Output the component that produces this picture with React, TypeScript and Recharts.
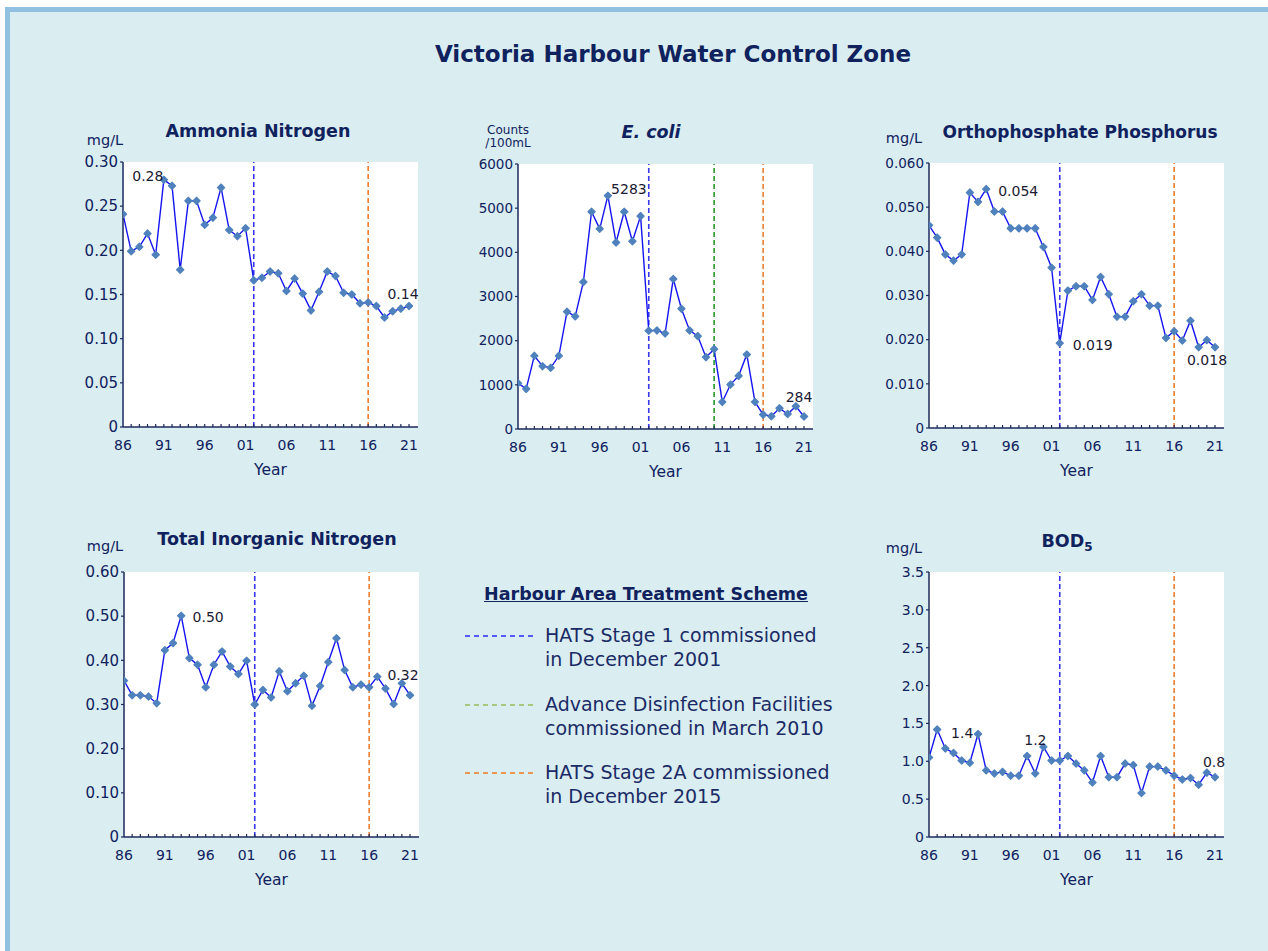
import React from "react";
import { LineChart, Line, XAxis, YAxis, CartesianGrid, ReferenceLine, LabelList } from "recharts";

// years on the category axis
const years = [
  1986, 1987, 1988, 1989, 1990, 1991, 1992, 1993, 1994, 1995, 1996, 1997,
  1998, 1999, 2000, 2001, 2002, 2003, 2004, 2005, 2006, 2007, 2008, 2009,
  2010, 2011, 2012, 2013, 2014, 2015, 2016, 2017, 2018, 2019, 2020, 2021,
];
const xLabelYears = [1986, 1991, 1996, 2001, 2006, 2011, 2016, 2021];

// annual averages
const ammonia = [
  0.241, 0.199, 0.204, 0.219, 0.195, 0.28, 0.273, 0.178, 0.256, 0.256, 0.229, 0.237,
  0.271, 0.223, 0.216, 0.225, 0.166, 0.169, 0.176, 0.174, 0.154, 0.168, 0.151, 0.132,
  0.153, 0.176, 0.171, 0.152, 0.15, 0.14, 0.141, 0.137, 0.124, 0.131, 0.134, 0.137,
];
const ecoli = [
  1037, 908, 1657, 1422, 1385, 1657, 2656, 2550, 3329, 4918, 4532, 5283,
  4222, 4918, 4252, 4820, 2224, 2232, 2164, 3397, 2724, 2232, 2103, 1627,
  1808, 613, 1006, 1203, 1687, 613, 325, 288, 469, 340, 515, 284,
];
const orthoP = [
  0.0459, 0.0431, 0.0393, 0.0379, 0.0393, 0.0533, 0.0512, 0.0541, 0.049, 0.049, 0.0452, 0.0452,
  0.0452, 0.0452, 0.041, 0.0363, 0.0192, 0.0311, 0.0321, 0.0321, 0.029, 0.0342, 0.0303, 0.0252,
  0.0252, 0.0287, 0.0303, 0.0277, 0.0277, 0.0204, 0.0219, 0.0198, 0.0243, 0.0183, 0.0199, 0.0183,
];
const tin = [
  0.354, 0.321, 0.321, 0.318, 0.303, 0.423, 0.439, 0.501, 0.405, 0.39, 0.339, 0.39,
  0.42, 0.386, 0.369, 0.399, 0.3, 0.333, 0.316, 0.375, 0.33, 0.348, 0.365, 0.297,
  0.342, 0.396, 0.45, 0.378, 0.339, 0.345, 0.339, 0.363, 0.336, 0.301, 0.348, 0.321,
];
const bod5 = [
  1.05, 1.42, 1.17, 1.11, 1.01, 0.98, 1.36, 0.88, 0.84, 0.86, 0.81, 0.81,
  1.07, 0.84, 1.19, 1.01, 1.01, 1.07, 0.97, 0.88, 0.72, 1.07, 0.79, 0.79,
  0.97, 0.95, 0.58, 0.93, 0.93, 0.88, 0.81, 0.76, 0.78, 0.69, 0.85, 0.79,
];

// y axis ticks
const ammoniaTicks = [0, 0.05, 0.1, 0.15, 0.2, 0.25, 0.3];
const ecoliTicks = [0, 1000, 2000, 3000, 4000, 5000, 6000];
const orthoTicks = [0, 0.01, 0.02, 0.03, 0.04, 0.05, 0.06];
const tinTicks = [0, 0.1, 0.2, 0.3, 0.4, 0.5, 0.6];
const bodTicks = [0, 0.5, 1, 1.5, 2, 2.5, 3, 3.5];

// HATS milestones (position on the year axis)
const stage1Year = 2002;
const disinfectionYear = 2010;
const stage2aYear = 2016;

// years whose values are written next to the point
const ammoniaNotes = [1991, 2021];
const ecoliNotes = [1997, 2021];
const orthoNotes = [1993, 2002, 2021];
const tinNotes = [1993, 2021];
const bodNotes = [1987, 2000, 2021];

const FONT = "'DejaVu Sans', Verdana, sans-serif";
const NAVY = "#10225e";
const AXIS = "#1c2a5c";
const BLUE = "#3535f2";
const GREEN = "#22992a";
const ORANGE = "#ee7d31";

const PW = 295;
const PH = 265;
const YW = 52;
const XH = 60;
const M = { top: 20, right: 24, bottom: 0, left: 0 };

const fmt = (d: number) => (v: number) => (v === 0 ? "0" : v.toFixed(d));

function YearTick(props: any) {
  const { x, y, payload } = props;
  const year = payload.value;
  return (
    <g>
      {year > 1986 && <line x1={x} y1={y} x2={x} y2={y - 3} stroke={AXIS} strokeWidth={1.2} />}
      {xLabelYears.includes(year) && (
        <text x={x} y={y + 18} textAnchor="middle" dominantBaseline="central" fontSize={14} fill={NAVY} fontFamily={FONT}>
          {String(year).slice(2)}
        </text>
      )}
    </g>
  );
}

function diamond(p: any) {
  const { cx, cy, index } = p;
  if (cx == null || cy == null) return <g key={index} />;
  const s = 3.6;
  return (
    <path
      key={index}
      d={`M${cx},${cy - s}L${cx + s},${cy}L${cx},${cy + s}L${cx - s},${cy}Z`}
      fill="#4f81bd"
      stroke="#4f81bd"
      strokeWidth={1.2}
      strokeLinejoin="round"
    />
  );
}

type PanelProps = {
  values: number[];
  left: number;
  top: number;
  yMax: number;
  yTicks: number[];
  yFmt: (v: number) => string;
  noteFmt: (v: number) => string;
  notes: number[];
  noteOffsets: [number, number][];
  tickFont: number;
  showDisinfection?: boolean;
};

function Panel({ values, left, top, yMax, yTicks, yFmt, noteFmt, notes, noteOffsets, tickFont, showDisinfection }: PanelProps) {
  const rows = years.map((year, i) => ({ year, v: values[i] }));
  const frame = { stroke: AXIS, strokeWidth: 1.5 };
  return (
    <div style={{ position: "absolute", left: left - YW - M.left, top: top - M.top }}>
      <LineChart width={YW + PW + M.right} height={M.top + PH + XH} data={rows} margin={M}>
        <CartesianGrid fill="#ffffff" horizontal={false} vertical={false} />
        <XAxis
          dataKey="year"
          type="number"
          domain={[1986, 2022.1]}
          ticks={years}
          interval={0}
          tickSize={0}
          tickMargin={0}
          tickLine={false}
          tick={(p: any) => <YearTick {...p} />}
          height={XH}
          axisLine={frame}
          allowDataOverflow
          label={{ value: "Year", position: "insideBottom", offset: 12, fill: NAVY, fontSize: 15.5, fontFamily: FONT }}
        />
        <XAxis xAxisId="top" orientation="top" type="number" domain={[1986, 2022.1]} height={0} tick={false} tickLine={false} axisLine={frame} />
        <YAxis
          type="number"
          domain={[0, yMax]}
          ticks={yTicks}
          interval={0}
          width={YW}
          tickSize={3}
          tickMargin={2}
          tickLine={{ stroke: AXIS, strokeWidth: 1.2 }}
          axisLine={frame}
          tickFormatter={yFmt}
          tick={{ fill: NAVY, fontSize: tickFont, fontFamily: FONT }}
          allowDataOverflow
        />
        <YAxis yAxisId="right" orientation="right" type="number" domain={[0, yMax]} width={0} tick={false} tickLine={false} axisLine={frame} />
        <ReferenceLine x={stage1Year} stroke={BLUE} strokeWidth={1.6} strokeDasharray="5 3" />
        {showDisinfection && <ReferenceLine x={disinfectionYear} stroke={GREEN} strokeWidth={1.6} strokeDasharray="5 3" />}
        <ReferenceLine x={stage2aYear} stroke={ORANGE} strokeWidth={1.6} strokeDasharray="5 3" />
        <Line dataKey="v" stroke="#1414f0" strokeWidth={1.4} dot={diamond} isAnimationActive={false}>
          <LabelList
            dataKey="v"
            content={(p: any) => {
              const k = notes.indexOf(years[p.index]);
              if (k < 0) return null;
              const [dx, dy] = noteOffsets[k];
              return (
                <text x={p.x + dx} y={p.y + dy} textAnchor="middle" dominantBaseline="central" fontSize={14} fill="#1a1a33" fontFamily={FONT}>
                  {noteFmt(Number(p.value))}
                </text>
              );
            }}
          />
        </Line>
      </LineChart>
    </div>
  );
}

function Txt({ x, y, size, bold, italic, children }: any) {
  return (
    <div
      style={{
        position: "absolute",
        left: x,
        top: y,
        transform: "translate(-50%, -50%)",
        whiteSpace: "nowrap",
        fontFamily: FONT,
        fontSize: size,
        fontWeight: bold ? 700 : 400,
        fontStyle: italic ? "italic" : "normal",
        color: NAVY,
        lineHeight: 1.1,
        textAlign: "center",
      }}
    >
      {children}
    </div>
  );
}

function LegendItem({ y, color, lines }: { y: number; color: string; lines: string[] }) {
  return (
    <>
      <svg style={{ position: "absolute", left: 463, top: y - 3 }} width={74} height={6}>
        <line x1={2} y1={3} x2={72} y2={3} stroke={color} strokeWidth={1.3} strokeDasharray="5 4" />
      </svg>
      <div style={{ position: "absolute", left: 545, top: y - 13, fontFamily: FONT, fontSize: 19, color: "#1a2b66", lineHeight: "24px" }}>
        {lines.map((l) => (
          <div key={l}>{l}</div>
        ))}
      </div>
    </>
  );
}

export default function App() {
  return (
    <div style={{ position: "absolute", left: 0, top: 0, width: 1268, height: 951, background: "#ffffff", overflow: "hidden" }}>
      <div
        style={{
          position: "absolute",
          left: 5,
          top: 7,
          width: 1263,
          height: 944,
          background: "#daedf0",
          borderLeft: "5px solid #92c0e1",
          borderTop: "5px solid #92c0e1",
          boxSizing: "border-box",
        }}
      />
      <Txt x={673} y={55} size={23} bold>
        Victoria Harbour Water Control Zone
      </Txt>

      <Txt x={258} y={132} size={17.5} bold>Ammonia Nitrogen</Txt>
      <Txt x={105} y={141} size={14.5}>mg/L</Txt>
      <Panel
        values={ammonia}
        left={123}
        top={162}
        yMax={0.3}
        yTicks={ammoniaTicks}
        yFmt={fmt(2)}
        noteFmt={fmt(2)}
        notes={ammoniaNotes}
        noteOffsets={[[-16, -4], [-6, -12]]}
        tickFont={15}
      />

      <Txt x={651} y={133} size={17.5} bold italic>E. coli</Txt>
      <Txt x={508} y={137} size={12}>
        Counts
        <br />
        /100mL
      </Txt>
      <Panel
        values={ecoli}
        left={518}
        top={164}
        yMax={6000}
        yTicks={ecoliTicks}
        yFmt={(v) => String(v)}
        noteFmt={(v) => String(v)}
        notes={ecoliNotes}
        noteOffsets={[[21, -7], [-5, -19]]}
        tickFont={13.5}
        showDisinfection
      />

      <Txt x={1080} y={132} size={17} bold>Orthophosphate Phosphorus</Txt>
      <Txt x={904} y={139} size={14.5}>mg/L</Txt>
      <Panel
        values={orthoP}
        left={929}
        top={163}
        yMax={0.06}
        yTicks={orthoTicks}
        yFmt={fmt(3)}
        noteFmt={fmt(3)}
        notes={orthoNotes}
        noteOffsets={[[32, 2], [33, 2], [-8, 13]]}
        tickFont={13.5}
      />

      <Txt x={277} y={540} size={17.5} bold>Total Inorganic Nitrogen</Txt>
      <Txt x={105} y={547} size={14.5}>mg/L</Txt>
      <Panel
        values={tin}
        left={124}
        top={572}
        yMax={0.6}
        yTicks={tinTicks}
        yFmt={fmt(2)}
        noteFmt={fmt(2)}
        notes={tinNotes}
        noteOffsets={[[27, 1], [-7, -20]]}
        tickFont={15}
      />

      <Txt x={1067} y={543} size={17.5} bold>
        BOD<sub style={{ fontSize: 12 }}>5</sub>
      </Txt>
      <Txt x={904} y={549} size={14.5}>mg/L</Txt>
      <Panel
        values={bod5}
        left={929}
        top={572}
        yMax={3.5}
        yTicks={bodTicks}
        yFmt={fmt(1)}
        noteFmt={fmt(1)}
        notes={bodNotes}
        noteOffsets={[[25, 4], [-8, -7], [-1, -15]]}
        tickFont={14}
      />

      <div
        style={{
          position: "absolute",
          left: 646,
          top: 594,
          transform: "translate(-50%, -50%)",
          whiteSpace: "nowrap",
          fontFamily: FONT,
          fontSize: 17.5,
          fontWeight: 700,
          color: NAVY,
          textDecoration: "underline",
        }}
      >
        Harbour Area Treatment Scheme
      </div>
      <LegendItem y={636} color="#2a2af5" lines={["HATS Stage 1 commissioned", "in December 2001"]} />
      <LegendItem y={705} color="#9bbb59" lines={["Advance Disinfection Facilities", "commissioned in March 2010"]} />
      <LegendItem y={773} color="#f07a22" lines={["HATS Stage 2A commissioned", "in December 2015"]} />
    </div>
  );
}
